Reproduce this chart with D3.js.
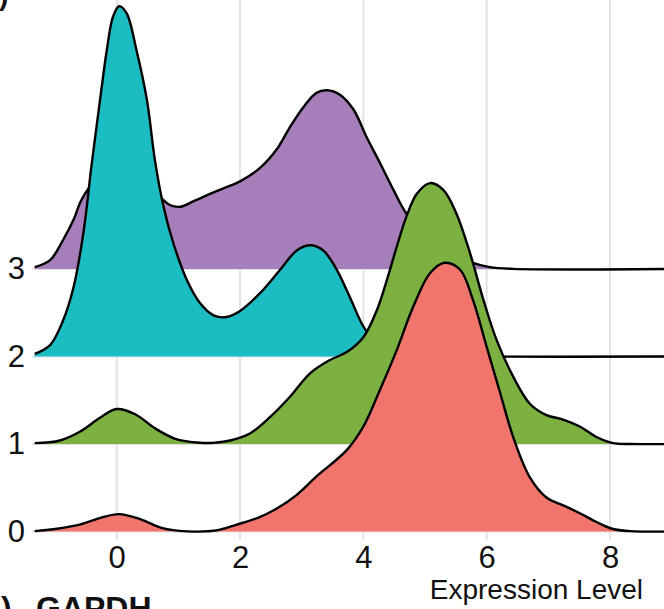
<!DOCTYPE html>
<html>
<head>
<meta charset="utf-8">
<script src="https://cdn.jsdelivr.net/npm/d3@7"></script>
<style>
  html, body { margin: 0; padding: 0; background: #fff; }
  svg { display: block; font-family: "Liberation Sans", Arial, Helvetica, sans-serif; }
</style>
</head>
<body>
<svg id="chart" width="664" height="609"></svg>
<script>
// Ridge groups (bottom to top) and x-axis ticks
const groups = ["0", "1", "2", "3"];
const xTicks = [0, 2, 4, 6, 8];
const groupColors = ["#F2756D", "#7CB142", "#1CBDC2", "#A67FBA"];

// Scaled density heights (in ridge-spacing units) along expression level
const expr0 = [-1.33, -1.0, -0.60, -0.25, 0.04, 0.39, 0.74, 1.14, 1.61, 1.95, 2.30, 2.59, 2.92, 3.24, 3.73, 4.00, 4.27, 4.54, 4.81, 5.08, 5.32, 5.57, 5.78, 6.00, 6.22, 6.43, 6.70, 6.97, 7.24, 7.51, 7.78, 8.05, 8.32, 9.0];
const dens0 = [0.005, 0.03, 0.08, 0.16, 0.20, 0.14, 0.04, 0.003, 0.012, 0.08, 0.16, 0.26, 0.42, 0.63, 0.93, 1.20, 1.62, 2.07, 2.57, 2.95, 3.07, 2.99, 2.64, 2.11, 1.58, 1.08, 0.62, 0.39, 0.30, 0.21, 0.11, 0.03, 0.006, 0.0];

const expr1 = [-1.33, -0.92, -0.60, -0.27, 0.0, 0.30, 0.62, 0.95, 1.35, 1.59, 1.84, 2.16, 2.49, 2.81, 3.14, 3.46, 3.73, 4.00, 4.22, 4.38, 4.54, 4.70, 4.87, 5.08, 5.30, 5.51, 5.73, 5.95, 6.16, 6.43, 6.70, 6.97, 7.24, 7.51, 7.78, 8.05, 8.32, 9.0];
const dens1 = [0.01, 0.04, 0.14, 0.30, 0.40, 0.34, 0.18, 0.06, 0.015, 0.015, 0.04, 0.12, 0.31, 0.54, 0.81, 0.96, 1.05, 1.22, 1.53, 1.87, 2.25, 2.60, 2.86, 2.98, 2.90, 2.63, 2.18, 1.64, 1.19, 0.77, 0.46, 0.33, 0.28, 0.20, 0.08, 0.01, 0.0, 0.0];

const expr2 = [-1.33, -1.08, -0.87, -0.70, -0.54, -0.41, -0.27, -0.16, -0.06, 0.04, 0.16, 0.32, 0.49, 0.62, 0.76, 0.92, 1.14, 1.35, 1.57, 1.78, 2.00, 2.32, 2.65, 2.92, 3.14, 3.35, 3.57, 3.78, 4.03, 4.30, 4.60, 5.00, 5.50, 9.0];
const dens2 = [0.03, 0.13, 0.41, 0.79, 1.41, 2.17, 2.93, 3.50, 3.88, 4.00, 3.92, 3.50, 2.93, 2.24, 1.71, 1.29, 0.87, 0.61, 0.47, 0.45, 0.52, 0.72, 0.99, 1.21, 1.27, 1.21, 0.99, 0.68, 0.31, 0.12, 0.04, 0.01, 0.0, 0.0];

const expr3 = [-1.33, -1.08, -0.87, -0.70, -0.57, -0.35, -0.03, 0.30, 0.54, 0.70, 0.86, 1.03, 1.24, 1.46, 1.73, 2.00, 2.32, 2.59, 2.81, 3.03, 3.24, 3.41, 3.62, 3.84, 4.05, 4.27, 4.49, 4.70, 5.08, 5.41, 5.73, 6.05, 6.43, 9.0];
const dens3 = [0.02, 0.10, 0.33, 0.56, 0.79, 1.00, 1.08, 1.00, 0.88, 0.82, 0.73, 0.71, 0.77, 0.84, 0.92, 1.00, 1.15, 1.36, 1.62, 1.85, 2.01, 2.04, 1.99, 1.82, 1.51, 1.21, 0.90, 0.63, 0.33, 0.19, 0.08, 0.02, 0.0, 0.0];

const exprByGroup = [expr0, expr1, expr2, expr3];
const densByGroup = [dens0, dens1, dens2, dens3];

const svg = d3.select("#chart");
const W = 664, H = 609;
const panel = { left: 32, right: W, top: 0, bottom: 540 };

svg.append("rect").attr("width", W).attr("height", H).attr("fill", "#fff");

const x = d3.scaleLinear().domain([0, 8]).range([116.7, 610]);
const y = d3.scalePoint().domain(groups).range([531.6, 268.9]);
const step = y(groups[0]) - y(groups[1]);

// Vertical grid
svg.append("g")
  .selectAll("line")
  .data(xTicks)
  .join("line")
  .attr("x1", d => x(d)).attr("x2", d => x(d))
  .attr("y1", panel.top).attr("y2", panel.bottom)
  .attr("stroke", "#e3e3e3").attr("stroke-width", 2);

// Horizontal grid at each ridge baseline
svg.append("g")
  .selectAll("line")
  .data(groups)
  .join("line")
  .attr("x1", panel.left).attr("x2", panel.right)
  .attr("y1", d => y(d)).attr("y2", d => y(d))
  .attr("stroke", "#e3e3e3").attr("stroke-width", 2);

// Ridges, drawn top group first so lower ridges overlap
const ridges = groups.map((g, i) => ({
  key: g,
  color: groupColors[i],
  pts: exprByGroup[i].map((v, j) => [v, densByGroup[i][j]])
})).reverse();

const smooth = d3.curveCatmullRom.alpha(0.5);
const ridgeG = svg.append("g");
ridges.forEach(r => {
  const base = y(r.key);
  const top = d => Math.min(base, base - d[1] * step);
  const area = d3.area()
    .x(d => x(d[0]))
    .y0(base)
    .y1(top)
    .curve(smooth);
  const line = d3.line()
    .x(d => x(d[0]))
    .y(top)
    .curve(smooth);
  ridgeG.append("path").datum(r.pts).attr("d", area).attr("fill", r.color);
  ridgeG.append("path").datum(r.pts).attr("d", line)
    .attr("fill", "none").attr("stroke", "#000").attr("stroke-width", 2.4)
    .attr("stroke-linejoin", "round");
});

// Axes
const yAxis = svg.append("g")
  .attr("transform", `translate(${panel.left},0)`)
  .call(d3.axisLeft(y).tickSize(0).tickPadding(7));
yAxis.select(".domain").remove();
yAxis.selectAll("text").attr("font-size", 31).attr("fill", "#111")
  .attr("font-family", "'Liberation Sans', Arial, sans-serif");

const xAxis = svg.append("g")
  .attr("transform", `translate(0,${panel.bottom})`)
  .call(d3.axisBottom(x).tickValues(xTicks).tickFormat(d3.format("d")).tickSize(0).tickPadding(6));
xAxis.select(".domain").remove();
xAxis.selectAll("text").attr("font-size", 31).attr("fill", "#111")
  .attr("font-family", "'Liberation Sans', Arial, sans-serif");

// Axis title
svg.append("text")
  .attr("x", 643).attr("y", 599)
  .attr("text-anchor", "end")
  .attr("font-size", 28)
  .attr("fill", "#111")
  .text("Expression Level");

// Neighbouring panel labels, partly outside the frame
svg.append("text")
  .attr("x", -1).attr("y", 5)
  .attr("font-size", 28).attr("font-weight", "bold").attr("fill", "#111")
  .text(")");
svg.append("text")
  .attr("x", 1).attr("y", 619)
  .attr("font-size", 32).attr("font-weight", "bold").attr("fill", "#111")
  .text(")");
svg.append("text")
  .attr("x", 36).attr("y", 619)
  .attr("font-size", 32).attr("font-weight", "bold").attr("fill", "#111")
  .text("GAPDH");
</script>
</body>
</html>
